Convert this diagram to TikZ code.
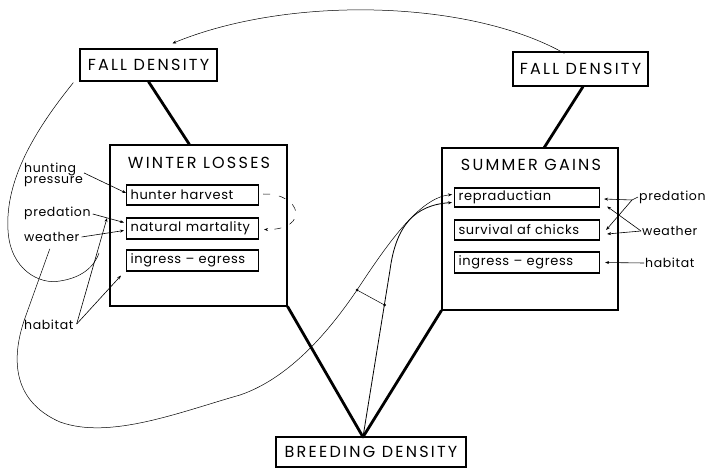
\documentclass[tikz,border=0pt]{standalone}
\usepackage{fontspec}
\setmainfont{Poppins}
\usetikzlibrary{arrows.meta,calc}
\begin{document}
\begin{tikzpicture}[x=1pt,y=-1pt,
  caps/.style={font=\fontsize{16}{18}\selectfont\addfontfeatures{LetterSpace=14}},
  lc/.style={font=\fontsize{12.5}{14}\selectfont\addfontfeatures{LetterSpace=5}},
  lci/.style={font=\fontsize{13}{14}\selectfont\addfontfeatures{LetterSpace=5}},
  box/.style={draw, line width=1.3pt, inner sep=0pt},
  inbox/.style={draw, line width=1.1pt, minimum height=20pt, inner xsep=4pt, inner ysep=0pt, align=left, anchor=west, lci},
  lab/.style={lc, anchor=west, inner sep=1pt, align=left},
  arr/.style={-{Stealth[length=4pt,width=3pt]}, line width=0.6pt},
  thin/.style={line width=0.5pt},
  heavy/.style={line width=2.8pt, line cap=round, line join=round},
  dotend/.style={fill, circle, inner sep=0pt, minimum size=3pt}]
\useasboundingbox (0,0) rectangle (708,470);

% main boxes
\node[box, caps, minimum width=137pt, minimum height=32pt] (fdL) at (148.5,65) {FALL DENSITY};
\node[box, caps, minimum width=135pt, minimum height=34pt] (fdR) at (580.5,69) {FALL DENSITY};
\node[box, caps, minimum width=190pt, minimum height=30pt] (bd) at (371,452) {BREEDING DENSITY};
\node[box, minimum width=177pt, minimum height=161pt] (wl) at (198.5,225.5) {};
\node[box, minimum width=176pt, minimum height=162pt] (sg) at (530,229) {};
\node[caps] (wlt) at (199,163) {WINTER LOSSES};
\node[caps] (sgt) at (531,165) {SUMMER GAINS};

% inner boxes
\node[inbox, text width=124pt] (hh) at (126,195) {hunter harvest};
\node[inbox, text width=124pt, minimum height=21pt] (nm) at (126,228.5) {natural martality};
\node[inbox, text width=124pt, minimum height=21pt] (ie) at (126,260.5) {ingress -- egress};
\node[inbox, text width=137pt, minimum height=19pt] (rep) at (454,197.5) {repraductian};
\node[inbox, text width=137pt] (surv) at (454,230) {survival af chicks};
\node[inbox, text width=137pt, minimum height=21pt] (ie2) at (454,262.5) {ingress -- egress};

% labels
\node[lab] (hp) at (23,175) {hunting\\[-3pt]pressure};
\node[lab] (pred) at (23,213) {predation};
\node[lab] (weat) at (23,237) {weather};
\node[lab] (hab) at (23,325) {habitat};
\node[lab] (predR) at (638,197) {predation};
\node[lab] (weatR) at (641,231) {weather};
\node[lab] (habR) at (644,263) {habitat};

% coordinates
\coordinate (bj) at (363,437);
\coordinate (hj) at (107,218);
\coordinate (pj) at (632,200);

% heavy links
\draw[heavy] (fdL.south) -- ($(wl.north west)+(80,0)$);
\draw[heavy] ($(fdR.south)+(2.5,0)$) -- ($(sg.north west)+(103,0)$);
\draw[heavy] (wl.south east) -- (bj);
\draw[heavy] (sg.south west) -- (bj);

% top feedback curve
\draw[arr, thin] ($(fdR.north west)+(52,2)$) .. controls (470,0) and (290,-5) .. ($(fdL.north)+(24,-5)$);

% left arrows
\draw[arr] ($(hp.east)+(0,-2)$) -- ($(hh.west)+(0,-2)$);
\draw[arr] ($(pred.east)+(1,1)$) -- ($(nm.west)+(-2,-6)$);
\draw[arr] ($(weat.east)+(1,0)$) -- ($(nm.west)+(-2,2)$);
\draw[arr] ($(hab.east)+(2,-1)$) -- (hj);
\draw[arr] ($(hab.east)+(2,-1)$) -- ($(ie.south west)+(-5,4)$);

% fall density loop into habitat line
\draw[thin] ($(fdL.south west)+(-6,1)$) .. controls (35,130) and (5,180) .. (8,230)
  .. controls (10,270) and (40,285) .. (60,281) .. controls (80,278) and (94,268) .. (99,253);

% compensation (dashed)
\draw[arr, thin, dash pattern=on 7pt off 9pt] ($(hh.east)+(4,-1)$) .. controls (302,193) and (310,230) .. ($(nm.east)+(5,1)$);

% long curve from weather to reproduction
\draw[arr, thin] ($(weat.south)+(-2,6)$) -- (25,318) .. controls (12,355) and (10,400) .. (60,422)
  .. controls (110,440) and (180,412) .. (240,395) .. controls (290,378) and (330,330) .. (357,290)
  coordinate (pA) .. controls (390,240) and (420,198) .. ($(rep.west)+(-2,-3)$);

% curve from breeding density to reproduction
\draw[arr, line width=0.8pt] (bj) -- (390,270) .. controls (396,225) and (415,205) .. ($(rep.west)+(-2,5)$);
\coordinate (pB) at (384.5,305);
\draw[thin] (pA) -- (pB);
\node[dotend] (dA) at (pA) {};
\node[dotend] (dB) at (pB) {};

% right arrows
\draw[thin] (predR.west) -- (pj);
\draw[arr] (pj) -- ($(rep.east)+(4,1.5)$);
\draw[arr] (pj) -- ($(surv.east)+(6,0)$);
\draw[arr] (weatR.west) -- ($(surv.east)+(7,4)$);
\draw[arr] (weatR.west) -- ($(rep.east)+(7,9)$);
\draw[arr] (habR.west) -- ($(ie2.east)+(5,0)$);
\end{tikzpicture}
\end{document}
